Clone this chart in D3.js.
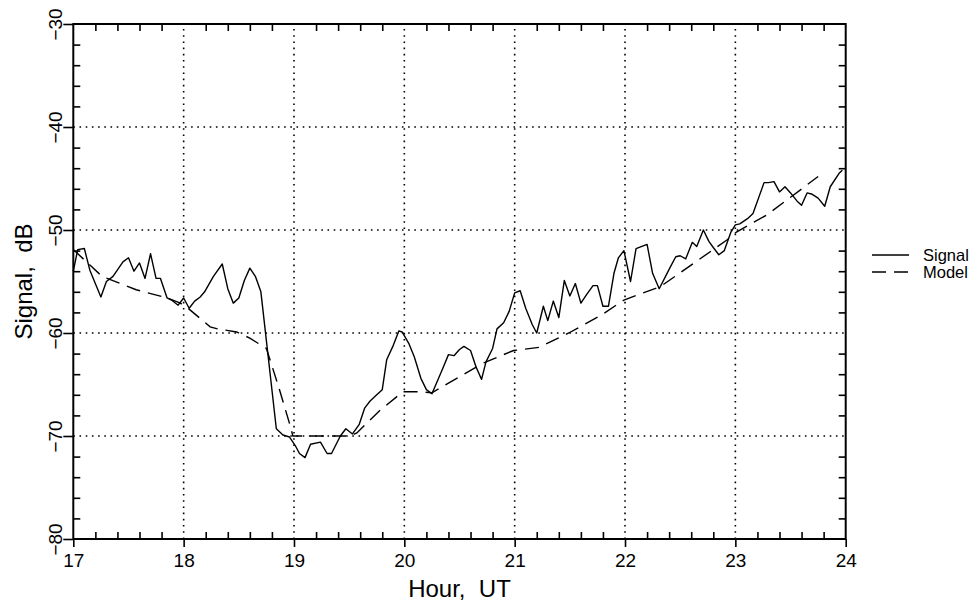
<!DOCTYPE html>
<html>
<head>
<meta charset="utf-8">
<script src="https://cdn.jsdelivr.net/npm/d3@7"></script>
<style>
  body { margin: 0; background: #fff; }
  svg { font-family: "Liberation Sans", Arial, sans-serif; }
</style>
</head>
<body>
<svg width="976" height="603"></svg>
<script>

// Medicion (hora UT, dB)
let signal_horas = [17.00, 17.04, 17.10, 17.15, 17.25, 17.30, 17.36, 17.45, 17.50, 17.55,
  17.60, 17.65, 17.70, 17.75, 17.79, 17.85, 17.89, 17.95, 18.00, 18.05,
  18.10, 18.15, 18.19, 18.27, 18.35, 18.40, 18.45, 18.50, 18.55, 18.60,
  18.65, 18.70, 18.84, 18.90, 18.96, 19.01, 19.05, 19.10, 19.15, 19.24,
  19.30, 19.34, 19.42, 19.47, 19.53, 19.59, 19.64, 19.69, 19.75, 19.80,
  19.84, 19.90, 19.95, 19.98, 20.04, 20.09, 20.15, 20.20, 20.25, 20.29,
  20.35, 20.40, 20.45, 20.50, 20.54, 20.60, 20.65, 20.70, 20.74, 20.80,
  20.84, 20.90, 20.95, 21.00, 21.05, 21.10, 21.16, 21.20, 21.26, 21.30,
  21.35, 21.40, 21.45, 21.50, 21.55, 21.60, 21.65, 21.71, 21.75, 21.80,
  21.85, 21.90, 21.94, 21.99, 22.05, 22.10, 22.20, 22.25, 22.31, 22.41,
  22.46, 22.50, 22.55, 22.61, 22.65, 22.71, 22.76, 22.80, 22.85, 22.90,
  22.96, 23.00, 23.04, 23.11, 23.16, 23.26, 23.30, 23.35, 23.40, 23.45,
  23.50, 23.56, 23.60, 23.65, 23.69, 23.75, 23.81, 23.86, 23.94, 23.97]

let signal_db = [-54.0, -51.9, -51.8, -53.9, -56.5, -55.0, -54.5, -53.1, -52.7, -54.0,
  -53.2, -54.7, -52.3, -54.7, -54.7, -56.6, -56.8, -57.3, -56.6, -57.6,
  -56.9, -56.5, -56.0, -54.5, -53.3, -55.7, -57.1, -56.6, -54.9, -53.7,
  -54.5, -56.0, -69.3, -69.9, -70.1, -70.9, -71.7, -72.1, -70.8, -70.6,
  -71.7, -71.7, -70.0, -69.3, -69.8, -68.9, -67.3, -66.6, -66.0, -65.5,
  -62.6, -61.2, -59.8, -59.9, -61.0, -62.3, -64.4, -65.5, -65.9, -64.9,
  -63.4, -62.1, -62.2, -61.6, -61.3, -61.7, -63.3, -64.5, -62.8, -61.5,
  -59.6, -59.0, -57.9, -56.1, -55.9, -57.6, -59.2, -60.0, -57.4, -58.8,
  -56.9, -58.5, -54.9, -56.4, -55.2, -57.1, -56.3, -55.4, -55.4, -57.4,
  -57.4, -54.2, -52.7, -52.0, -55.0, -51.8, -51.4, -54.2, -55.7, -53.6,
  -52.6, -52.5, -52.8, -51.2, -51.6, -50.0, -51.1, -51.7, -52.4, -52.0,
  -50.2, -49.5, -49.4, -48.9, -48.4, -45.4, -45.4, -45.3, -46.3, -45.8,
  -46.4, -47.2, -47.6, -46.4, -46.5, -46.9, -47.7, -45.8, -44.5, -44.2]

// Modelo
let model_horas = [17.00, 17.26, 17.57, 17.85, 17.97, 18.04, 18.24, 18.31, 18.48, 18.60,
  18.75, 18.86, 18.96, 18.99, 19.51, 19.57, 19.78, 19.93, 19.99, 20.14,
  20.25, 20.72, 20.99, 21.22, 21.49, 21.78, 21.99, 22.32, 22.92, 23.01,
  23.29, 23.59, 23.75]

let model_db = [-51.9, -54.5, -55.8, -56.6, -57.1, -57.6, -59.4, -59.6, -59.9, -60.5,
  -61.5, -65.2, -68.8, -70.0, -70.0, -69.7, -67.5, -66.2, -65.7, -65.7,
  -65.8, -62.9, -61.7, -61.4, -60.0, -58.3, -56.8, -55.5, -51.0, -50.2,
  -48.5, -46.1, -44.8]

let x_ticks = [17, 18, 19, 20, 21, 22, 23, 24]
let y_ticks = [-80, -70, -60, -50, -40, -30]
let leyenda = ['Signal', 'Model']



/* Lienzo */

let svg = d3.select('svg')
let izq = 73.3, der = 845.7, arriba = 24, abajo = 539

let x = d3.scaleLinear().domain([17, 24]).range([izq, der])
let y = d3.scaleLinear().domain([-80, -30]).range([abajo, arriba])

let x_menores = d3.range(17, 24.001, 0.2).filter(v => Math.abs(v - Math.round(v)) > 0.01)
let y_menores = d3.range(-80, -29.9, 2).filter(v => v % 10 != 0)


// grilla punteada
let grilla = svg.append('g').attr('class', 'grilla')
  .attr('stroke', '#000').attr('stroke-width', 1.6).attr('stroke-dasharray', '1.6,4.6')

grilla.selectAll('line.gx')
  .data(x_ticks.slice(1, -1)).enter().append('line')
  .attr('x1', d => x(d)).attr('x2', d => x(d))
  .attr('y1', abajo).attr('y2', arriba)

grilla.selectAll('line.gy')
  .data(y_ticks.slice(1, -1)).enter().append('line')
  .attr('x1', izq).attr('x2', der)
  .attr('y1', d => y(d)).attr('y2', d => y(d))


// ejes con d3.axis, ticks menores hacia adentro
let eje_abajo = svg.append('g').attr('transform', `translate(0,${abajo})`)
  .call(d3.axisBottom(x).tickValues(x_menores).tickSize(-7).tickFormat(''))
let eje_arriba = svg.append('g').attr('transform', `translate(0,${arriba})`)
  .call(d3.axisTop(x).tickValues(x_menores).tickSize(-7).tickFormat(''))
let eje_izq = svg.append('g').attr('transform', `translate(${izq},0)`)
  .call(d3.axisLeft(y).tickValues(y_menores).tickSize(-7).tickFormat(''))
let eje_der = svg.append('g').attr('transform', `translate(${der},0)`)
  .call(d3.axisRight(y).tickValues(y_menores).tickSize(-7).tickFormat(''))

// ticks mayores con etiquetas
let eje_x = svg.append('g').attr('transform', `translate(0,${abajo})`)
  .call(d3.axisBottom(x).tickValues(x_ticks).tickSize(8).tickPadding(4).tickFormat(d3.format('d')))
let eje_y = svg.append('g').attr('transform', `translate(${izq},0)`)
  .call(d3.axisLeft(y).tickValues(y_ticks).tickSize(10).tickFormat(d3.format('d')))

for (let e of [eje_abajo, eje_arriba, eje_izq, eje_der, eje_x, eje_y]) {
  e.select('.domain').remove()
  e.selectAll('line').attr('stroke', '#000').attr('stroke-width', 1.6)
}

eje_x.selectAll('text')
  .attr('font-size', 19).attr('fill', '#000')
  .attr('font-family', '"Liberation Sans", Arial, sans-serif')
  .attr('y', 0).attr('dy', 28)

eje_y.selectAll('text')
  .attr('font-size', 19).attr('fill', '#000')
  .attr('font-family', '"Liberation Sans", Arial, sans-serif')
  .attr('text-anchor', 'middle')
  .attr('x', 0).attr('dy', 0)
  .attr('transform', 'translate(-11,0) rotate(-90)')

// marco
svg.append('rect')
  .attr('x', izq).attr('y', arriba)
  .attr('width', der - izq).attr('height', abajo - arriba)
  .attr('fill', 'none').attr('stroke', '#000').attr('stroke-width', 2)


/* Curvas */

let linea = d3.line().x(d => x(d[0])).y(d => y(d[1]))

svg.append('path')
  .datum(d3.zip(model_horas, model_db))
  .attr('d', linea)
  .attr('fill', 'none').attr('stroke', '#000')
  .attr('stroke-width', 1.4).attr('stroke-dasharray', '14,8')

svg.append('path')
  .datum(d3.zip(signal_horas, signal_db))
  .attr('d', linea)
  .attr('fill', 'none').attr('stroke', '#000')
  .attr('stroke-width', 1.4).attr('stroke-linejoin', 'round')


/* Titulos */

svg.append('text')
  .text('Hour,  UT')
  .attr('x', (izq + der) / 2).attr('y', 597)
  .attr('text-anchor', 'middle').attr('font-size', 24)
  .style('white-space', 'pre')

svg.append('text')
  .text('Signal,  dB')
  .attr('transform', `translate(32,${(arriba + abajo) / 2}) rotate(-90)`)
  .attr('text-anchor', 'middle').attr('font-size', 24)
  .style('white-space', 'pre')


/* Leyenda */

let items = svg.append('g').selectAll('g.item')
  .data(leyenda).enter().append('g')
  .attr('class', 'item')
  .attr('transform', (d, i) => `translate(872,${255 + i * 17})`)

items.append('line')
  .attr('x1', 0).attr('x2', 37).attr('y1', 0).attr('y2', 0)
  .attr('stroke', '#000').attr('stroke-width', 1.3)
  .attr('stroke-dasharray', (d, i) => i == 1 ? '14,8' : null)

items.append('text')
  .text(d => d)
  .attr('x', 51).attr('y', 5.5)
  .attr('font-size', 16.5)

</script>
</body>
</html>
